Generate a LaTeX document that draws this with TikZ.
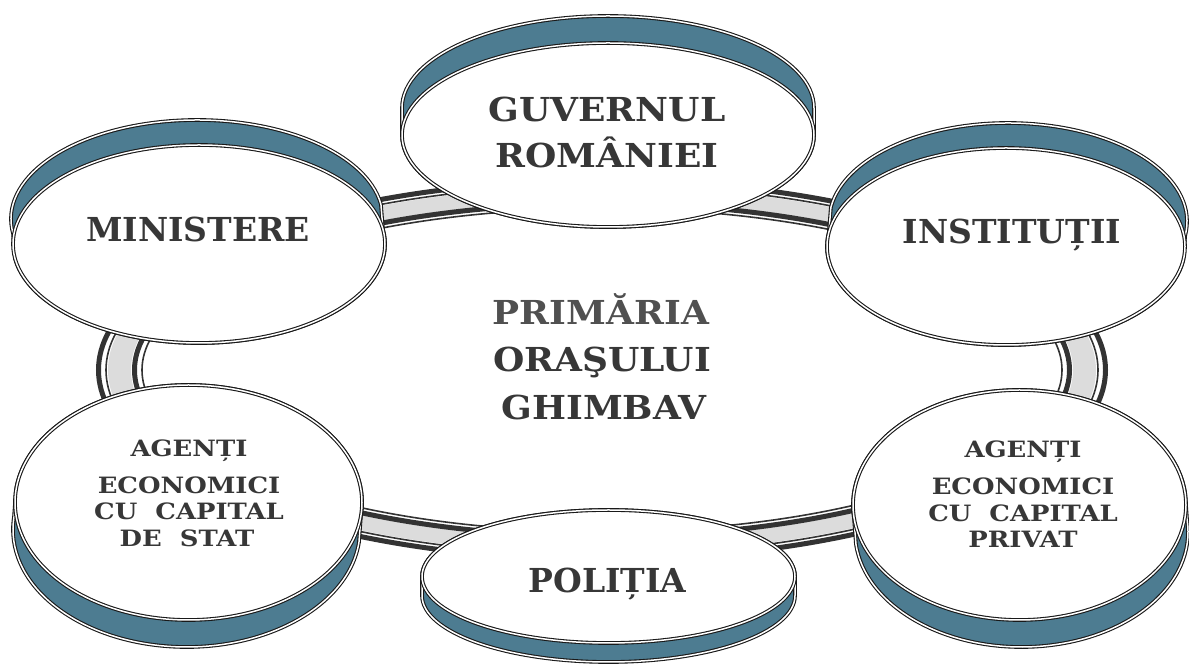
\documentclass[tikz,border=0pt]{standalone}
\usepackage{fontspec}
\setmainfont{DejaVu Serif}
\newfontfamily\wideA[FakeStretch=1.09]{DejaVu Serif}
\newfontfamily\wideB[FakeStretch=1.15]{DejaVu Serif}
\usetikzlibrary{shapes.geometric}
\definecolor{diskband}{RGB}{77,124,145}
\definecolor{ringgrey}{RGB}{220,220,220}
\definecolor{ink}{RGB}{55,55,55}
\definecolor{inklight}{RGB}{80,80,80}
\tikzset{
  rim/.style={draw=black!90, line width=1.1pt, double=white, double distance=1.5pt},
  face/.style={ellipse, rim, fill=white, inner sep=0pt, outer sep=0pt},
  big/.style={font=\bfseries\fontsize{33}{40}\selectfont, text=ink, anchor=base, inner sep=0pt},
  wbig/.style={font=\wideA\bfseries\fontsize{33}{40}\selectfont, text=ink, anchor=base, inner sep=0pt},
  mid/.style={font=\wideA\bfseries\fontsize{33}{40}\selectfont, text=inklight, anchor=base, inner sep=0pt},
  small/.style={font=\wideB\bfseries\fontsize{22.5}{26}\selectfont, text=ink, anchor=base, inner sep=0pt},
  railthin/.style={draw=black!80, line width=1.6pt},
  railthick/.style={draw=black!80, line width=5pt},
}
\newcommand\diskside[6]{%
  \pgfmathsetmacro\thA{atan2((#4)*(#6),(#3)*(#5))+90}%
  \pgfmathsetmacro\thB{\thA+180}%
  \pgfmathsetmacro\thC{\thA+360}%
  \filldraw[fill=diskband, rim] ([shift={(#1,#2)}]\thA:#3 and #4)
    arc[start angle=\thA, end angle=\thB, x radius=#3, y radius=#4]
    -- ++(#5,#6)
    arc[start angle=\thB, end angle=\thC, x radius=#3, y radius=#4] -- cycle;
}
\begin{document}
\begin{tikzpicture}[x=1pt,y=1pt]
\useasboundingbox (0,0) rectangle (1189,666);
% ring
\coordinate (rc) at (602,296);
\fill[ringgrey, even odd rule] (rc) ellipse [x radius=471, y radius=168.8]
      (rc) ellipse [x radius=494, y radius=183.6];
\draw[railthin]  (rc) ellipse [x radius=460, y radius=161.6];
\draw[railthick] (rc) ellipse [x radius=467.5, y radius=166.5];
\draw[railthin]  (rc) ellipse [x radius=496, y radius=184.9];
\draw[railthick] (rc) ellipse [x radius=503.5, y radius=189.7];
% disks
\diskside{608}{531}{206}{92}{0}{27}
\node[face, minimum width=412, minimum height=184] (guv) at (608,531) {};
\diskside{199}{422}{186}{99}{-2}{25}
\node[face, minimum width=372, minimum height=198] (min) at (199,422) {};
\diskside{1006}{419.5}{179}{98.5}{2}{25}
\node[face, minimum width=358, minimum height=197] (inst) at (1006,419.5) {};
\diskside{188.5}{163.5}{173.5}{117.5}{-2}{-27}
\node[face, minimum width=347, minimum height=235] (ags) at (188.5,163.5) {};
\diskside{1019.5}{161}{166.5}{115}{2}{-27}
\node[face, minimum width=333, minimum height=230] (agp) at (1019.5,161) {};
\diskside{608.5}{89.5}{186.5}{66.5}{0}{-19}
\node[face, minimum width=373, minimum height=133] (pol) at (608.5,89.5) {};
% labels
\node[wbig] (guv1) at (607,544) {GUVERNUL};
\node[wbig] (guv2) at (607,498) {ROMÂNIEI};
\node[big] (min1) at (198,424) {MINISTERE};
\node[big] (inst1) at (1012,422) {INSTITUȚII};
\node[mid] (c1) at (601,341) {PRIMĂRIA};
\node[wbig] (c2) at (602,294) {ORAŞULUI};
\node[wbig] (c3) at (604,246) {GHIMBAV};
\node[big] (pol1) at (607.5,73) {POLIȚIA};
\node[small] (ags1) at (189,209) {AGENȚI};
\node[small] (ags2) at (189,172) {ECONOMICI};
\node[small] (ags3) at (189,146) {CU~~CAPITAL};
\node[small] (ags4) at (187,119) {DE~~STAT};
\node[small] (agp1) at (1023,208) {AGENȚI};
\node[small] (agp2) at (1023,171) {ECONOMICI};
\node[small] (agp3) at (1023,144) {CU~~CAPITAL};
\node[small] (agp4) at (1023,118) {PRIVAT};
\end{tikzpicture}
\end{document}
